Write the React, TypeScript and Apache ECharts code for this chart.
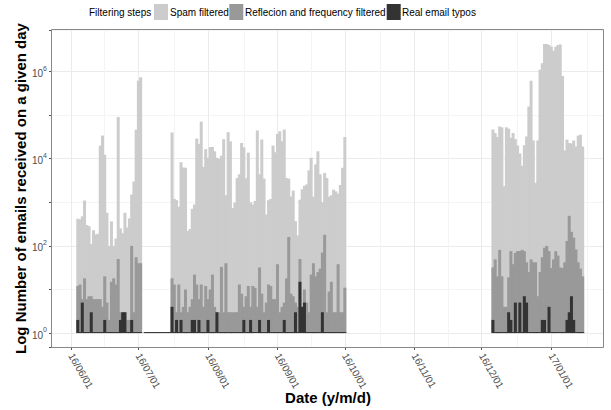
import React, { useEffect, useRef } from 'react';
import * as echarts from 'echarts';

// ---------- data ----------
const FIRST_DAY = '2016-05-24';
const DAY_COUNT = 246;

const SEG1_START = '2016-06-04';
const spamSeg1 = [420, 405, 475, 1100, 300, 285, 110, 228, 183, 190, 20000, 34000, 12400, 575, 100, 365, 100, 148, 91000, 252, 195, 575, 265, 427, 1510, 3000, 46500, 620000, 745000];
const reflSeg1 = [12, 13, 6, 18, 6, 7, 7, 6, 6, 6, 6, 4, 20, 5, 2, 15, 18, 13, 50, 3, 3, 3, 2, 2, 100, 3, 55, 40, 40];
const typoSeg1 = [2, 1, 5, 1, 1, 1, 3, 1, 1, 1, 1, 1, 2, 1, 1, 1, 1, 1, 1, 2, 3, 3, 1, 1, 2, 1, 1, 1, 1];

const GAP_START = '2016-07-04';
const typoGap = [1, 1, 1, 1, 1, 1, 1, 1, 1, 1, 1, 1];

const SEG2_START = '2016-07-16';
const spamSeg2 = [40000, 1200, 1120, 790, 8300, 6300, 6200, 220, 245, 710,
  890, 29000, 22000, 71000, 6500, 16600, 10500, 18600, 18600, 14800,
  10500, 10000, 11700, 28000, 1450, 40700, 25000, 740, 980, 3600,
  4400, 23000, 18200, 3550, 13800, 1000, 890, 1070, 44700, 4400,
  27500, 3500, 525, 1120, 1200, 20000, 14100, 37000, 42700, 25000,
  46800, 3600, 3500, 1350, 1860, 370, 174, 1150, 2000, 2400,
  2570, 5400, 10500, 1350, 7400, 14800, 4400, 1000, 4700, 3600,
  1350, 1450, 1950, 1780, 1580, 2500, 6200, 31600];
const reflSeg2 = [18, 13, 3, 13, 3, 4, 10, 3, 4, 6,
  22, 13, 6, 13, 4, 12, 6, 10, 22, 4,
  3, 3, 33, 3, 40, 3, 3, 3, 3, 3,
  13, 8, 4, 7, 12, 4, 12, 11, 4, 32,
  8, 3, 5, 13, 12, 6, 6, 38, 3, 4,
  5, 18, 160, 8, 7, 5, 4, 50, 4, 10,
  5, 3, 22, 40, 20, 25, 30, 70, 180, 3,
  9, 15, 3, 3, 38, 3, 3, 11];
const typoSeg2 = [4, 1, 2, 1, 2, 1, 1, 1, 1, 2,
  2, 1, 2, 1, 1, 1, 2, 1, 1, 1,
  3, 1, 1, 1, 1, 1, 1, 1, 1, 1,
  1, 1, 2, 1, 1, 2, 1, 1, 1, 2,
  1, 1, 1, 2, 1, 1, 1, 1, 1, 1,
  2, 1, 1, 1, 1, 3, 1, 15, 4, 5,
  1, 1, 1, 1, 1, 1, 1, 3, 1, 1,
  1, 1, 1, 1, 1, 1, 1, 1];

const SEG3_START = '2016-12-06';
const spamSeg3 = [46800, 38900, 31600, 55000, 52500, 2340, 52500, 49000, 30200, 38900,
  28200, 20000, 13200, 6900, 20400, 32400, 158000, 617000, 26300, 2800,
  26300, 1100000, 1550000, 4270000, 4270000, 4070000, 3720000, 3020000, 3720000, 4070000,
  4170000, 794000, 15500, 27500, 22900, 22400, 26300, 19100, 33900, 35500, 19100];
const reflSeg3 = [32, 49, 20, 81, 20, 4, 4, 19, 76, 38,
  69, 76, 76, 81, 76, 42, 25, 49, 42, 42,
  7, 25, 55, 91, 100, 76, 31, 49, 76, 60,
  32, 31, 42, 130, 490, 210, 155, 83, 42, 30, 20];
const typoSeg3 = [2, 1, 1, 1, 1, 1, 1, 3, 2, 1,
  5, 1, 5, 1, 7, 5, 1, 1, 1, 1,
  1, 1, 2, 2, 1, 4, 1, 1, 1, 1,
  1, 1, 1, 2, 3, 7, 2, 1, 1, 1, 1];

const SERIES_NAMES = ['Spam filtered', 'Reflecion and frequency filtered', 'Real email typos'];
const SERIES_COLORS = ['#CCCCCC', '#999999', '#333333'];
const LEGEND_TITLE = 'Filtering steps';
const X_TITLE = 'Date (y/m/d)';
const Y_TITLE = 'Log Number of emails received on a given day';

// ---------- helpers ----------
const DAY_MS = 86400000;
const T0 = Date.parse(FIRST_DAY + 'T00:00:00Z');
const dayIndex = (iso: string) => Math.round((Date.parse(iso + 'T00:00:00Z') - T0) / DAY_MS);
const pad = (n: number) => (n < 10 ? '0' + n : String(n));
const dayLabel = (i: number) => {
  const d = new Date(T0 + i * DAY_MS);
  return `${String(d.getUTCFullYear()).slice(2)}/${pad(d.getUTCMonth() + 1)}/${pad(d.getUTCDate())}`;
};

const dates: string[] = [];
for (let i = 0; i < DAY_COUNT; i++) dates.push(dayLabel(i));

const place = (target: (number | null)[], start: string, values: number[]) => {
  const off = dayIndex(start);
  values.forEach((v, k) => { target[off + k] = v; });
};

const spam: (number | null)[] = new Array(DAY_COUNT).fill(null);
const refl: (number | null)[] = new Array(DAY_COUNT).fill(null);
const typo: (number | null)[] = new Array(DAY_COUNT).fill(null);
place(spam, SEG1_START, spamSeg1); place(refl, SEG1_START, reflSeg1); place(typo, SEG1_START, typoSeg1);
place(typo, GAP_START, typoGap);
place(spam, SEG2_START, spamSeg2); place(refl, SEG2_START, reflSeg2); place(typo, SEG2_START, typoSeg2);
place(spam, SEG3_START, spamSeg3); place(refl, SEG3_START, reflSeg3); place(typo, SEG3_START, typoSeg3);

const monthStarts: number[] = [];
dates.forEach((d, i) => { if (d.endsWith('/01')) monthStarts.push(i); });
const allStarts = [dayIndex('2016-05-01'), ...monthStarts, dayIndex('2017-02-01')];
const midMonths = new Set<number>();
for (let k = 0; k + 1 < allStarts.length; k++) {
  const m = Math.round((allStarts[k] + allStarts[k + 1]) / 2);
  if (m >= 0 && m < DAY_COUNT) midMonths.add(m);
}
const isMonthStart = (i: number) => dates[i] !== undefined && dates[i].endsWith('/01');
const isMidMonth = (i: number) => midMonths.has(i);

// ---------- layout ----------
const FONT = '"Liberation Sans", Arial, Helvetica, sans-serif';
const GRID = { left: 52, right: 7, top: 30, bottom: 62 };
const W = 611;
const H = 410;
const Y_MIN = 0.4786;
const Y_MAX = 8.995e6;
const BAR_W = 3;

export default function App() {
  const ref = useRef<HTMLDivElement>(null);
  useEffect(() => {
    if (!ref.current) return;
    const chart = echarts.init(ref.current, undefined, { renderer: 'svg' });
    const legendItems: any[] = [
      { type: 'text', x: 89, y: 12, style: { text: LEGEND_TITLE, fontSize: 10, fontFamily: FONT, fill: '#000', verticalAlign: 'middle' } },
    ];
    const keyX = [154, 229.3, 386.7];
    const textX = [170, 245, 402];
    SERIES_NAMES.forEach((n, k) => {
      legendItems.push({ type: 'rect', shape: { x: keyX[k], y: 4, width: 14, height: 16 }, style: { fill: SERIES_COLORS[k] } });
      legendItems.push({ type: 'text', x: textX[k], y: 12, style: { text: n, fontSize: 10, fontFamily: FONT, fill: '#000', verticalAlign: 'middle' } });
    });
    const gw = W - GRID.left - GRID.right;
    const gh = H - GRID.top - GRID.bottom;
    const option: any = {
      animation: false,
      backgroundColor: '#ffffff',
      textStyle: { fontFamily: FONT },
      grid: { ...GRID, containLabel: false },
      xAxis: [
        {
          type: 'category', data: dates, position: 'bottom',
          axisLine: { show: false },
          axisTick: { show: true, interval: isMonthStart, alignWithLabel: true, length: 3, lineStyle: { color: '#555555' } },
          axisLabel: { interval: isMonthStart, rotate: -60, margin: 7, fontSize: 10, color: '#4D4D4D', fontFamily: FONT },
          splitLine: { show: true, interval: isMonthStart, alignWithLabel: true, lineStyle: { color: '#EBEBEB', width: 1 } },
          name: X_TITLE, nameLocation: 'middle', nameGap: 43, nameMoveOverlap: false,
          nameTextStyle: { fontSize: 15, fontWeight: 'bold', color: '#000', fontFamily: FONT },
        },
        {
          type: 'category', data: dates, position: 'top',
          axisLine: { show: false }, axisTick: { show: false }, axisLabel: { show: false },
          splitLine: { show: true, interval: isMidMonth, alignWithLabel: true, lineStyle: { color: '#F4F4F4', width: 1 } },
        },
      ],
      yAxis: {
        type: 'log', logBase: 10, min: Y_MIN, max: Y_MAX,
        axisLine: { show: false },
        axisTick: { show: true, length: 3, lineStyle: { color: '#555555' } },
        axisLabel: {
          margin: 5,
          formatter: (v: number) => {
            const l = Math.log10(v);
            const e = Math.round(l);
            if (Math.abs(l - e) > 1e-6 || e % 2 !== 0) return '';
            return `{b|10}{s|${e}}`;
          },
          rich: {
            b: { fontSize: 10, color: '#4D4D4D', fontFamily: FONT, lineHeight: 14, verticalAlign: 'bottom' },
            s: { fontSize: 7, color: '#4D4D4D', fontFamily: FONT, lineHeight: 6, verticalAlign: 'top' },
          },
        },
        splitLine: { show: true, lineStyle: { color: ['#F4F4F4', '#EBEBEB'], width: 1 } },
        name: Y_TITLE, nameLocation: 'middle', nameGap: 24, nameMoveOverlap: false,
        nameTextStyle: { fontSize: 15, fontWeight: 'bold', color: '#000', fontFamily: FONT },
      },
      series: [
        {
          name: SERIES_NAMES[0], type: 'bar', data: spam, barWidth: BAR_W, barGap: '-100%',
          itemStyle: { color: SERIES_COLORS[0] },
        },
        {
          name: SERIES_NAMES[1], type: 'bar', data: refl, barWidth: BAR_W, barGap: '-100%',
          itemStyle: { color: SERIES_COLORS[1] },
        },
        {
          name: SERIES_NAMES[2], type: 'bar', data: typo, barWidth: BAR_W, barGap: '-100%', barMinHeight: 1,
          itemStyle: { color: SERIES_COLORS[2] },
        },
      ],
      graphic: [
        ...legendItems,
        {
          type: 'rect', z: 100, silent: true,
          shape: { x: GRID.left - 0.5, y: GRID.top - 0.5, width: gw, height: gh },
          style: { fill: 'none', stroke: '#888888', lineWidth: 1 },
        },
      ],
    };
    chart.setOption(option);
    return () => chart.dispose();
  }, []);
  return <div ref={ref} style={{ position: 'fixed', left: 0, top: 0, width: W, height: H }} />;
}
